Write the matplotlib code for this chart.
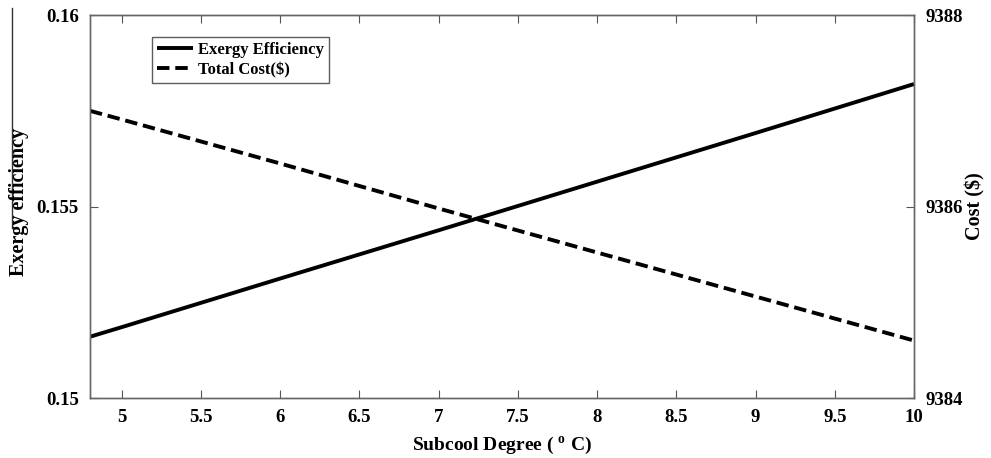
import matplotlib
matplotlib.use("Agg")
import matplotlib.pyplot as plt
from matplotlib.lines import Line2D

subcool = [4.8, 5, 6, 7, 8, 9, 10]
exergy_eff = [0.1516, 0.15185, 0.15312, 0.15438, 0.15565, 0.15692, 0.1582]
total_cost = [9387.0, 9386.91, 9386.45, 9385.98, 9385.52, 9385.06, 9384.6]

xticks = [5, 5.5, 6, 6.5, 7, 7.5, 8, 8.5, 9, 9.5, 10]
xtick_labels = ["5", "5.5", "6", "6.5", "7", "7.5", "8", "8.5", "9", "9.5", "10"]
left_ticks = [0.15, 0.155, 0.16]
left_labels = ["0.15", "0.155", "0.16"]
right_ticks = [9384, 9386, 9388]
right_labels = ["9384", "9386", "9388"]

plt.rcParams['font.family'] = ['Liberation Serif', 'DejaVu Serif']
plt.rcParams['font.weight'] = 'bold'
plt.rcParams['mathtext.fontset'] = 'custom'
plt.rcParams['mathtext.rm'] = 'Liberation Serif'

fig = plt.figure(figsize=(9.91, 4.58), dpi=100)
ax = fig.add_axes([0.0908, 0.131, 0.9223 - 0.0908, 0.967 - 0.131])
ax2 = ax.twinx()

l1, = ax.plot(subcool, exergy_eff, color='black', lw=2.8, solid_capstyle='butt')
l2, = ax2.plot(subcool, total_cost, color='black', lw=2.8, linestyle=(0, (3.2, 1.5)))

ax.set_xlim(4.8, 10)
ax.set_ylim(0.15, 0.16)
ax2.set_ylim(9384, 9388)

tfs = 13.5
ax.set_xticks(xticks)
ax.set_xticklabels(xtick_labels, fontsize=tfs, fontweight='bold')
ax.set_yticks(left_ticks)
ax.set_yticklabels(left_labels, fontsize=tfs, fontweight='bold')
ax2.set_yticks(right_ticks)
ax2.set_yticklabels(right_labels, fontsize=tfs, fontweight='bold')

ax.tick_params(axis='x', direction='in', top=True, length=6, width=0.8, color='#555555', pad=8)
ax.tick_params(axis='y', direction='in', length=6, width=0.8, color='#555555', pad=8)
ax2.tick_params(axis='y', direction='in', length=6, width=0.8, color='#555555', pad=8)

for a in (ax, ax2):
    for s in a.spines.values():
        s.set_color('#666666')
        s.set_linewidth(1.0)

ax.set_xlabel("Subcool Degree ( $^{\\rm o}$ C)", fontsize=14, fontweight='bold', labelpad=6)
fig.text(19 / 991, 1 - 202 / 458, "Exergy efficiency", rotation=90, ha='center', va='center',
         fontsize=14.5, fontweight='bold')
fig.text(975 / 991, 1 - 206 / 458, "Cost ($)", rotation=90, ha='center', va='center',
         fontsize=14.5, fontweight='bold')

leg = ax.legend([l1, l2], ["Exergy Efficiency", "Total Cost($)"],
                loc='upper left', bbox_to_anchor=(0.075, 0.943),
                frameon=True, fancybox=False, edgecolor='#333333',
                handlelength=2.2, handletextpad=0.25, borderpad=0.3, labelspacing=0.25,
                borderaxespad=0, prop={'weight': 'bold', 'size': 12})
leg.get_frame().set_linewidth(1.0)

fig.add_artist(Line2D([12 / 991, 12 / 991], [1 - 8 / 458, 1 - 228 / 458],
                      transform=fig.transFigure, color='#333333', lw=1.0))

fig.savefig("out.png", dpi=100)
